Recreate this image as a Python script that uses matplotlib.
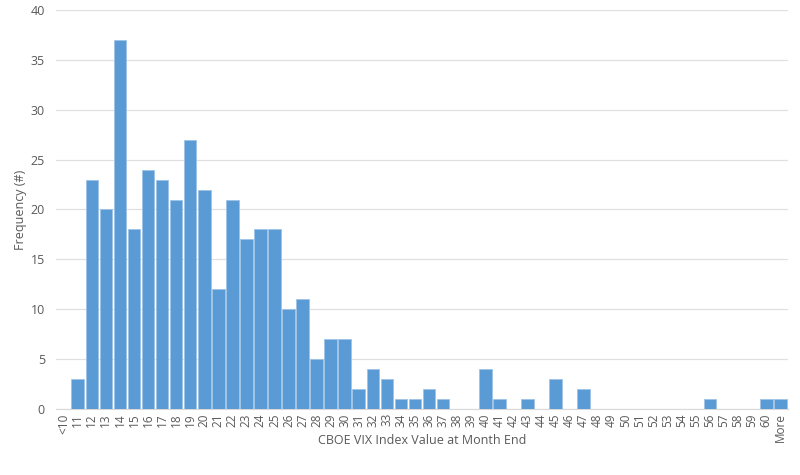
import matplotlib
matplotlib.use('Agg')
import matplotlib.pyplot as plt

# Catégories et fréquences
categories = ['<10'] + [str(v) for v in range(11, 61)] + ['More']
frequencies = [0, 3, 23, 20, 37, 18, 24, 23, 21, 27,
               22, 12, 21, 17, 18, 18, 10, 11, 5, 7,
               7, 2, 4, 3, 1, 1, 2, 1, 0, 0,
               4, 1, 0, 1, 0, 3, 0, 2, 0, 0,
               0, 0, 0, 0, 0, 0, 1, 0, 0, 0,
               1, 1]
y_ticks = [0, 5, 10, 15, 20, 25, 30, 35, 40]

plt.rcParams['font.family'] = ['Open Sans', 'DejaVu Sans']
text_color = '#595959'

fig = plt.figure(figsize=(8, 4.75), dpi=100)
ax = fig.add_axes([0.07, 0.139, 0.915, 0.84])

x = list(range(len(categories)))
ax.bar(x, frequencies, width=0.9, color='#5B9BD5', edgecolor='#9DC3E6', linewidth=0.6, zorder=3)

ax.set_xlim(-0.55, len(categories) - 0.45)
ax.set_ylim(0, 40)
ax.set_yticks(y_ticks)
ax.set_xticks(x)
ax.set_xticklabels(categories, rotation=90, fontsize=8.5, color=text_color)
ax.tick_params(axis='y', labelsize=9, colors=text_color, length=0, pad=8)
ax.tick_params(axis='x', length=0, pad=3)

ax.grid(axis='y', color='#E0E0E0', linewidth=0.9, zorder=0)
for side in ['top', 'right', 'left']:
    ax.spines[side].set_visible(False)
ax.spines['bottom'].set_color('#D9D9D9')

# Titres des axes placés à la main, comme dans Excel
ax.set_xlabel('CBOE VIX Index Value at Month End', fontsize=9, color=text_color, va='center')
ax.xaxis.set_label_coords(0.5, -0.078)
ax.set_ylabel('Frequency (#)', fontsize=9, color=text_color, va='center')
ax.yaxis.set_label_coords(-0.049, 0.5)

fig.savefig('out.png', dpi=100)
